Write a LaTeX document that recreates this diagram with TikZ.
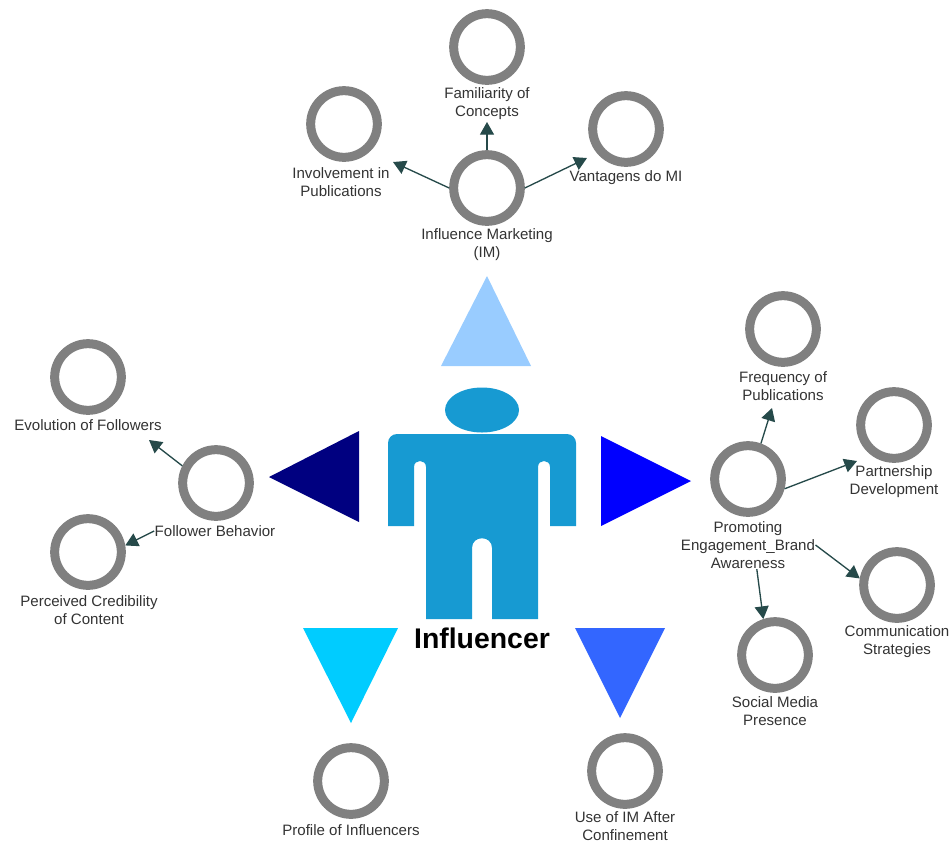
\documentclass[tikz,border=0pt]{standalone}
\usepackage{fontspec}
\setmainfont{Liberation Sans}
\usetikzlibrary{arrows.meta}
\definecolor{ringgray}{RGB}{128,128,128}
\definecolor{arrowgreen}{RGB}{38,74,74}
\definecolor{bodyblue}{RGB}{23,154,210}
\tikzset{
	every picture/.style={line width=0.75pt},
	ring/.style={circle,draw=ringgray,line width=6.75pt,minimum size=50pt,inner sep=0pt},
	lbl/.style={inner sep=0pt,align=center,text=black!80,font=\fontsize{11.3}{13.6}\selectfont},
	conn/.style={draw=arrowgreen,line width=1pt,-{Triangle[length=9.5pt,width=10.5pt]}},
}
\begin{document}
\begin{tikzpicture}[x=0.75pt,y=0.75pt,yscale=-1,xscale=1]
	\useasboundingbox (0,0) rectangle (952,843);
	
	%Triangles
	\fill [color={rgb, 255:red, 153; green, 204; blue, 255 }] (487,276) -- (531,366) -- (441,366) -- cycle ;
	\fill [color={rgb, 255:red, 0; green, 0; blue, 128 }] (269,477) -- (359,431) -- (359,522) -- cycle ;
	\fill [color={rgb, 255:red, 0; green, 0; blue, 255 }] (691,481) -- (601,436) -- (601,526) -- cycle ;
	\fill [color={rgb, 255:red, 0; green, 204; blue, 255 }] (303,628) -- (398,628) -- (351,723) -- cycle ;
	\fill [color={rgb, 255:red, 51; green, 102; blue, 255 }] (575,628) -- (665,628) -- (620,718) -- cycle ;
	%Person
	\fill [bodyblue] (482,410) ellipse [x radius=37,y radius=22.5];
	\fill [bodyblue] (388,443) .. controls (388,438) and (392,434) .. (397,434) -- (567,434) .. controls (572,434) and (576,438) .. (576,443) -- (576,526) -- (550,526) -- (550,467) .. controls (550,459) and (538,459) .. (538,467) -- (538,619) -- (492,619) -- (492,548) .. controls (492,535) and (472,535) .. (472,548) -- (472,619) -- (426,619) -- (426,467) .. controls (426,459) and (414,459) .. (414,467) -- (414,526) -- (388,526) -- cycle ;
	
	%Rings
	\node [ring] (familiarity) at (487,47) {};
	\node [ring] (involvement) at (344,124) {};
	\node [ring] (vantagens) at (626,129) {};
	\node [ring] (im) at (487,188) {};
	\node [ring] (frequency) at (783,329) {};
	\node [ring] (partnership) at (894,425) {};
	\node [ring] (promoting) at (748,479) {};
	\node [ring] (communication) at (897,585) {};
	\node [ring] (social) at (775,655) {};
	\node [ring] (evolution) at (88,377) {};
	\node [ring] (follower) at (216,483) {};
	\node [ring] (perceived) at (88,552) {};
	\node [ring] (profile) at (351,781) {};
	\node [ring] (useim) at (625,771) {};
	
	% Text Node
	\node [lbl] (familiaritylbl) at (487,104) {Familiarity of\\Concepts};
	\node [lbl] (involvementlbl) at (341,182) {Involvement in\\Publications};
	\node [lbl] (vantagenslbl) at (626,178) {Vantagens do MI};
	\node [lbl] (imlbl) at (487,245) {Influence Marketing\\(IM)};
	\node [lbl] (frequencylbl) at (783,386) {Frequency of\\Publications};
	\node [lbl] (partnershiplbl) at (894,482) {Partnership\\Development};
	\node [lbl] (promotinglbl) at (748,545) {Promoting\\Engagement\_Brand\\Awareness};
	\node [lbl] (communicationlbl) at (897,642) {Communication\\Strategies};
	\node [lbl] (sociallbl) at (775,711) {Social Media\\Presence};
	\node [lbl] (evolutionlbl) at (88,425) {Evolution of Followers};
	\node [lbl] (followerlbl) at (215,531) {Follower Behavior};
	\node [lbl] (perceivedlbl) at (89,610) {Perceived Credibility\\of Content};
	\node [lbl] (profilelbl) at (351,830) {Profile of Influencers};
	\node [lbl] (useimlbl) at (625,826) {Use of IM After\\Confinement};
	\node [inner sep=0pt,font=\fontsize{21.3}{24}\selectfont\bfseries] (influencer) at (482,638) {Influencer};
	
	% Free ends of the connections
	\coordinate (tipinvolvement) at (393,162);
	\coordinate (tipvantagens) at (587,158);
	\coordinate (tipfamiliarity) at (487,122);
	\coordinate (tipfrequency) at (772,408);
	\coordinate (tippartnership) at (857,461);
	\coordinate (tipevolution) at (149,440);
	
	% Connection
	\draw [conn] (im.west) -- (tipinvolvement);
	\draw [conn] (im.north) -- (tipfamiliarity);
	\draw [conn] (im.east) -- (tipvantagens);
	\draw [conn] (promoting.70) -- (tipfrequency);
	\draw [conn] (promoting.-15) -- (tippartnership);
	\draw [conn] (promotinglbl.east) -- (communication.170);
	\draw [conn] (promotinglbl.-70) -- (social.108);
	\draw [conn] (follower.153) -- (tipevolution);
	\draw [conn] (followerlbl.west) -- (perceived.10);
	
\end{tikzpicture}
\end{document}
